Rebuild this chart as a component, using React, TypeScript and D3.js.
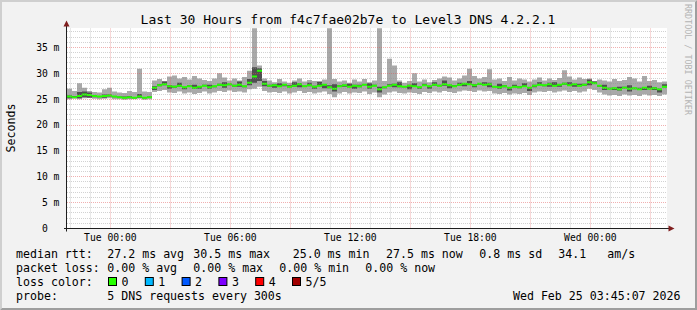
import React from "react";
import * as d3 from "d3";

const startTime = new Date(2026, 1, 23, 21, 50, 0);
const endTime = new Date(2026, 1, 25, 3, 50, 0);
const stepMinutes = 15;

const medianRtt = [
  25.5, 25.4, 25.6, 25.9, 25.8, 25.6, 25.5, 25.6, 25.7, 25.5, 25.4, 25.3, 25.4, 25.3, 25.5, 25.3, 25.4,
  27.2, 27.7, 27.9, 27.5, 27.4, 27.6, 27.3, 27.5, 27.2, 27.4, 27.6, 27.3, 27.5, 27.8, 27.7, 27.9, 27.6, 27.8, 27.5, 28.2,
  29.4, 30.5, 28.0, 27.6,
  27.7, 27.5, 27.8, 27.4, 27.6, 27.9, 27.5, 27.7, 27.4, 27.6,
  27.8, 27.3, 27.0, 27.5, 27.7, 27.4, 27.6, 27.5, 27.8, 27.4,
  27.6, 26.9, 27.3, 27.6, 27.8, 27.5, 27.4, 27.6, 27.5, 27.3,
  27.7, 27.5, 27.8, 27.6, 27.9, 27.7, 27.5, 27.8, 28.0, 27.9,
  27.7, 28.0, 27.8, 27.9, 27.4, 27.3, 27.5, 27.2, 27.4, 27.3,
  27.5, 27.2, 27.6, 27.8, 27.7, 27.9, 27.6, 27.8, 28.0, 27.7,
  27.9, 27.6, 27.8, 28.3, 28.1, 27.6, 27.2, 27.0, 27.1, 26.9,
  27.2, 27.0, 27.1, 26.9, 27.2, 27.0, 27.1, 26.9, 27.4,
];

const smokeLow = [
  25.0, 25.1, 25.0, 25.2, 25.3, 25.1, 25.0, 25.1, 25.2, 25.0, 25.0, 24.9, 25.0, 25.0, 25.1, 24.9, 25.0,
  26.4, 26.6, 26.8, 26.3, 26.2, 26.5, 26.1, 26.3, 26.0, 26.2, 26.5, 26.1, 26.3, 26.6, 26.4, 26.7, 26.4, 26.5, 26.3, 26.9,
  27.0, 27.4, 26.6, 26.3,
  26.4, 26.2, 26.5, 26.1, 26.3, 26.6, 26.2, 26.4, 26.1, 26.3,
  26.5, 26.0, 25.4, 26.1, 26.4, 26.1, 26.3, 26.2, 26.5, 26.0,
  26.3, 25.4, 25.9, 26.3, 26.5, 26.2, 26.1, 26.3, 26.2, 26.0,
  26.4, 26.2, 26.5, 26.3, 26.6, 26.4, 26.2, 26.5, 26.7, 26.6,
  26.4, 26.7, 26.5, 26.6, 26.1, 26.0, 26.2, 25.9, 26.1, 26.0,
  26.2, 25.8, 26.3, 26.5, 26.4, 26.6, 26.3, 26.5, 26.7, 26.4,
  26.6, 26.3, 26.5, 27.0, 26.8, 26.3, 25.9, 25.7, 25.8, 25.6,
  25.9, 25.7, 25.8, 25.6, 25.9, 25.7, 25.8, 25.6, 25.9,
];

const smokeInnerLow = [
  25.2, 25.3, 25.2, 25.4, 25.3, 25.4, 25.4, 25.3, 25.5, 25.4, 25.3, 25.2, 25.2, 25.2, 25.3, 25.2, 25.3,
  26.8, 27.5, 27.7, 27.0, 27.2, 27.4, 26.9, 27.4, 27.0, 27.0, 27.5, 27.0, 27.3, 27.6, 27.2, 27.7, 27.4, 27.4, 27.3, 27.7,
  28.2, 28.5, 27.5, 27.4,
  27.2, 27.4, 27.5, 27.3, 27.4, 27.3, 27.4, 27.5, 27.0, 27.5,
  27.1, 27.1, 26.5, 27.4, 27.4, 27.3, 27.0, 27.3, 27.7, 27.0,
  27.5, 26.3, 27.1, 27.5, 27.3, 27.3, 27.3, 26.9, 27.4, 27.0,
  27.6, 27.0, 27.6, 27.5, 27.6, 27.1, 27.4, 27.6, 27.5, 27.8,
  27.3, 27.8, 27.7, 27.3, 27.3, 27.0, 27.3, 26.7, 27.3, 27.1,
  27.4, 26.6, 27.3, 27.7, 27.5, 27.4, 27.5, 27.4, 27.8, 27.6,
  27.4, 27.5, 27.6, 27.7, 28.0, 27.4, 26.8, 26.9, 26.8, 26.7,
  27.1, 26.5, 26.9, 26.8, 26.8, 26.9, 26.8, 26.3, 27.3,
];

const smokeInnerHigh = [
  25.7, 25.6, 26.4, 26.5, 26.3, 25.8, 25.6, 25.9, 25.9, 25.6, 25.5, 25.5, 25.6, 25.4, 26.0, 25.4, 25.5,
  27.5, 27.9, 28.4, 27.7, 27.6, 28.2, 27.4, 27.7, 27.8, 27.5, 27.8, 27.8, 27.6, 28.0, 28.3, 28.0, 27.8, 28.4, 27.6, 28.9,
  31.2, 31.0, 28.5, 27.8,
  27.9, 28.1, 27.9, 27.7, 28.3, 28.1, 27.6, 28.2, 27.6, 28.4,
  27.9, 27.7, 27.9, 27.7, 27.8, 28.0, 27.8, 27.8, 27.9, 28.1,
  27.8, 27.4, 27.4, 27.9, 28.0, 28.3, 27.5, 27.8, 28.1, 27.4,
  28.0, 27.6, 28.3, 27.8, 28.6, 27.8, 27.7, 28.2, 28.1, 28.5,
  27.9, 28.1, 28.3, 28.2, 27.5, 28.0, 27.7, 27.3, 27.8, 27.5,
  28.1, 27.3, 27.8, 28.3, 27.8, 28.2, 28.3, 27.9, 28.2, 28.3,
  28.0, 28.0, 28.0, 28.8, 28.4, 27.7, 27.8, 27.2, 27.2, 27.4,
  27.4, 27.7, 27.2, 27.2, 27.3, 27.6, 27.3, 27.0, 27.9,
];

const smokeHigh = [
  27.0, 26.6, 28.1, 27.2, 26.6, 26.4, 26.3, 26.9, 27.2, 26.5, 26.3, 26.2, 26.6, 26.4, 30.9, 26.5, 26.4,
  28.6, 28.9, 28.5, 29.4, 29.6, 29.0, 29.3, 28.8, 29.5, 29.0, 28.7, 28.5, 29.0, 30.0, 29.2, 28.6, 29.0, 28.6, 29.3, 30.5,
  38.7, 31.5, 29.0, 28.6,
  28.3, 28.9, 28.4, 28.2, 28.6, 29.0, 28.4, 28.7, 28.5, 28.3,
  28.8, 38.7, 28.9, 28.4, 28.6, 28.2, 28.8, 28.4, 28.9, 28.3,
  28.6, 38.7, 28.5, 32.8, 31.5, 28.6, 28.2, 28.5, 30.0, 28.4,
  28.8, 28.3, 28.7, 29.0, 29.4, 29.2, 28.6, 29.0, 29.6, 30.9,
  29.5, 29.0, 29.3, 30.8, 28.8, 29.0, 28.5, 29.3, 28.6, 29.0,
  28.8, 28.4, 28.8, 29.2, 28.6, 29.0, 28.7, 29.1, 30.6, 29.4,
  28.8, 29.2, 28.9, 29.0, 28.5, 28.8, 28.6, 28.4, 28.9, 28.5,
  28.7, 29.3, 29.0, 28.4, 29.5, 28.5, 28.7, 28.3, 28.4,
];

const yTicks = [0, 5, 10, 15, 20, 25, 30, 35];
const xTickTimes = [
  new Date(2026, 1, 24, 0),
  new Date(2026, 1, 24, 6),
  new Date(2026, 1, 24, 12),
  new Date(2026, 1, 24, 18),
  new Date(2026, 1, 25, 0),
];
const xTickLabels = ["Tue 00:00", "Tue 06:00", "Tue 12:00", "Tue 18:00", "Wed 00:00"];

const titleText = "Last 30 Hours from f4c7fae02b7e to Level3 DNS 4.2.2.1";
const rttLegend = ["median rtt:", "27.2 ms avg", "30.5 ms max", "25.0 ms min", "27.5 ms now", "0.8 ms sd", "34.1", "am/s"];
const lossLegend = ["packet loss:", "0.00 % avg", "0.00 % max", "0.00 % min", "0.00 % now"];
const lossLabels = ["0", "1", "2", "3", "4", "5/5"];
const lossColors = ["#26ff00", "#00b8ff", "#0059ff", "#7e00ff", "#ff0000", "#a10000"];
const probeLegend = ["probe:", "5 DNS requests every 300s"];
const stampText = "Wed Feb 25 03:45:07 2026";

const MONO = "'DejaVu Sans Mono', monospace";

export default function App() {
  const W = 697;
  const H = 310;
  const left = 67;
  const right = 667;
  const top = 28.5;
  const bottom = 228.5;

  const x = d3.scaleTime().domain([startTime, endTime]).range([left, right]);
  const y = d3.scaleLinear().domain([0, 38.67]).range([bottom, top]);

  const n = medianRtt.length;
  const tAt = (i: number) => new Date(startTime.getTime() + i * stepMinutes * 60000);
  const idx = d3.range(n + 1);
  const val = (arr: number[], i: number) => arr[Math.min(i, n - 1)];

  const mkArea = (lo: (i: number) => number, hi: (i: number) => number) =>
    d3
      .area<number>()
      .x((i) => x(tAt(i)))
      .y0(lo)
      .y1(hi)
      .curve(d3.curveStepAfter)(idx) || "";

  const outerPath = mkArea((i) => y(val(smokeLow, i)), (i) => y(val(smokeHigh, i)));
  const innerPath = mkArea((i) => y(val(smokeInnerLow, i)), (i) => y(val(smokeInnerHigh, i)));
  const medianPath = mkArea((i) => y(val(medianRtt, i)) + 1, (i) => y(val(medianRtt, i)) - 1);

  const crisp = (v: number) => Math.round(v - 0.5) + 0.5;

  const hours = d3.timeHour.range(d3.timeHour.ceil(startTime), endTime);
  const minorV = hours.filter((h) => h.getHours() % 3 !== 0);
  const majorV = hours.filter((h) => h.getHours() % 3 === 0);
  const minorH = d3.range(1, 39).filter((v) => v % 5 !== 0);
  const majorH = yTicks.filter((v) => v > 0);

  const legendX1 = [16, 107.3, 193.3, 292.7, 386, 479.3, 558.3, 607.3];
  const legendX2 = [16, 107.3, 193.3, 279.3, 365.3];

  return (
    <svg
      width={W}
      height={H}
      viewBox={`0 0 ${W} ${H}`}
      style={{ position: "absolute", left: 0, top: 0, display: "block" }}
    >
      <defs>
        <clipPath id="plotClip">
          <rect x={left} y={top - 0.5} width={right - left} height={bottom - top + 0.5} />
        </clipPath>
      </defs>
      <rect x={0} y={0} width={W} height={H} fill="#f2f2f2" />
      <polygon points={`0,0 ${W},0 ${W - 2},2 2,2 2,${H - 2} 0,${H}`} fill="#cfcfcf" />
      <polygon points={`${W},0 ${W},${H} 0,${H} 2,${H - 2} ${W - 2},${H - 2} ${W - 2},2`} fill="#9e9e9e" />

      <rect x={left} y={top - 0.5} width={right - left} height={bottom - top + 0.5} fill="#ffffff" />

      <g clipPath="url(#plotClip)">
        <path d={outerPath} fill="#a9a9a9" />
        <path d={innerPath} fill="#4f4f4f" />
        <path d={medianPath} fill={lossColors[0]} />
      </g>

      <g strokeWidth={1} strokeDasharray="1,1" fill="none">
        {minorH.map((v) => (
          <line key={"mh" + v} x1={left} x2={right} y1={crisp(y(v))} y2={crisp(y(v))} stroke="rgba(143,143,143,0.4)" />
        ))}
        {minorV.map((h) => (
          <line key={"mv" + h.getTime()} x1={crisp(x(h))} x2={crisp(x(h))} y1={top} y2={bottom} stroke="rgba(143,143,143,0.4)" />
        ))}
        {majorH.map((v) => (
          <line key={"Mh" + v} x1={left} x2={right} y1={crisp(y(v))} y2={crisp(y(v))} stroke="rgba(222,79,79,0.45)" />
        ))}
        {majorV.map((h) => (
          <line key={"Mv" + h.getTime()} x1={crisp(x(h))} x2={crisp(x(h))} y1={top} y2={bottom} stroke="rgba(222,79,79,0.45)" />
        ))}
      </g>

      <line x1={64} x2={670} y1={bottom} y2={bottom} stroke="#1f1f1f" strokeWidth={1} />
      <line x1={66.5} x2={66.5} y1={231.5} y2={25} stroke="#1f1f1f" strokeWidth={1} />
      <polygon points={`66.5,20.5 63.5,26.5 69.5,26.5`} fill="#801f1f" />
      <polygon points={`674.5,${bottom} 668.5,${bottom - 3} 668.5,${bottom + 3}`} fill="#801f1f" />

      <g fontFamily={MONO} fontSize={9.7} fill="#000">
        {yTicks.map((v) => (
          <g key={"yl" + v}>
            <text x={47.9} y={y(v) + 3.4} textAnchor="end">
              {String(v)}
            </text>
            {v > 0 && (
              <text x={53.6} y={y(v) + 3.4}>
                m
              </text>
            )}
          </g>
        ))}
        {xTickTimes.map((tt, i) => (
          <text key={"xl" + i} x={x(tt)} y={240.7} textAnchor="middle">
            {xTickLabels[i]}
          </text>
        ))}
      </g>

      <text
        x={11}
        y={128}
        transform="rotate(-90 11 128)"
        textAnchor="middle"
        dy={4}
        fontFamily={MONO}
        fontSize={11.6}
        fill="#000"
      >
        Seconds
      </text>

      <text x={348} y={24} textAnchor="middle" fontFamily={MONO} fontSize={13} fill="#000">
        {titleText}
      </text>

      <text
        x={684.5}
        y={4}
        transform="rotate(90 684.5 4)"
        fontFamily={MONO}
        fontSize={8.4}
        fill="#b4b4b4"
      >
        RRDTOOL / TOBI OETIKER
      </text>

      <g fontFamily={MONO} fontSize={11.6} fill="#000">
        {rttLegend.map((s, i) => (
          <text key={"r" + i} x={legendX1[i]} y={258}>
            {s}
          </text>
        ))}
        {lossLegend.map((s, i) => (
          <text key={"l" + i} x={legendX2[i]} y={272}>
            {s}
          </text>
        ))}
        <text x={16} y={286}>
          loss color:
        </text>
        {lossLabels.map((s, i) => (
          <g key={"lc" + i}>
            <rect x={108.5 + i * 36.8} y={277.5} width={8} height={8} fill={lossColors[i]} stroke="#000" strokeWidth={1} />
            <text x={121.5 + i * 36.8} y={286}>
              {s}
            </text>
          </g>
        ))}
        <text x={16} y={300}>
          {probeLegend[0]}
        </text>
        <text x={107.3} y={300}>
          {probeLegend[1]}
        </text>
        <text x={680.5} y={300} textAnchor="end">
          {stampText}
        </text>
      </g>
    </svg>
  );
}
